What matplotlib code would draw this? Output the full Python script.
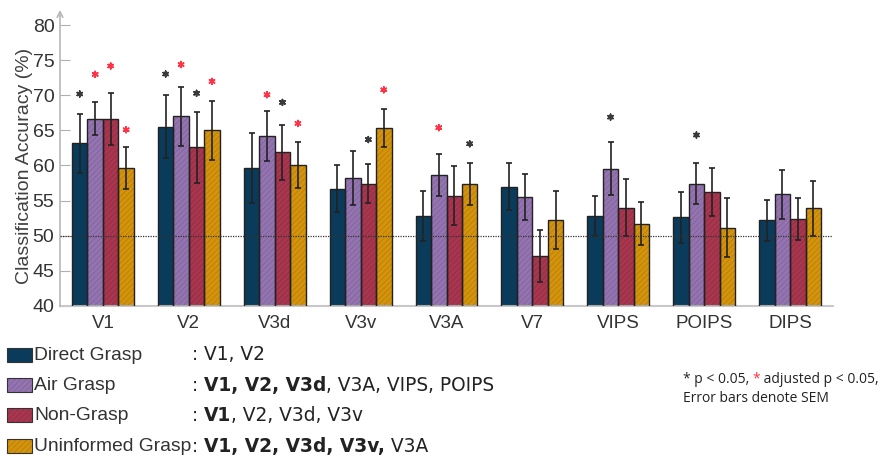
import matplotlib.pyplot as plt
from matplotlib.patches import Rectangle

regions = ["V1", "V2", "V3d", "V3v", "V3A", "V7", "VIPS", "POIPS", "DIPS"]
conditions = ["Direct Grasp", "Air Grasp", "Non-Grasp", "Uninformed Grasp"]

direct = [63.2, 65.5, 59.7, 56.7, 52.8, 57.0, 52.8, 52.6, 52.2]
direct_sem = [4.2, 4.5, 5.0, 3.3, 3.6, 3.35, 2.85, 3.6, 2.9]
air = [66.7, 67.0, 64.2, 58.2, 58.6, 55.55, 59.55, 57.4, 55.9]
air_sem = [2.3, 4.2, 3.6, 3.8, 3.0, 3.3, 3.75, 2.9, 3.5]
nongrasp = [66.6, 62.6, 61.9, 57.4, 55.7, 47.1, 54.0, 56.2, 52.4]
nongrasp_sem = [3.7, 5.1, 3.9, 2.8, 4.2, 3.65, 4.1, 3.4, 3.0]
uninformed = [59.6, 65.0, 60.1, 65.35, 57.3, 52.2, 51.7, 51.1, 53.9]
uninformed_sem = [3.0, 4.2, 3.3, 2.65, 3.0, 4.15, 3.05, 4.2, 3.9]

# significance markers: region index, condition index, height, adjusted (red) or not
star_region = [0, 0, 0, 0, 1, 1, 1, 1, 2, 2, 2, 3, 3, 4, 4, 6, 7]
star_cond = [0, 1, 2, 3, 0, 1, 2, 3, 1, 2, 3, 2, 3, 1, 3, 1, 1]
star_y = [70.2, 73.0, 74.2, 65.1, 73.05, 74.4, 70.3, 72.0, 70.1, 69.0, 66.0,
          63.7, 70.8, 65.4, 63.1, 66.9, 64.35]
star_adj = [0, 1, 1, 1, 0, 1, 0, 1, 1, 0, 1, 0, 1, 1, 0, 0, 0]

# legend summary text (text, bold?)
summary = [
    [(": V1, V2", False)],
    [(": ", False), ("V1, V2, V3d", True), (", V3A, VIPS, POIPS", False)],
    [(": ", False), ("V1", True), (", V2, V3d, V3v", False)],
    [(": ", False), ("V1, V2, V3d, V3v,", True), (" V3A", False)],
]

means = [direct, air, nongrasp, uninformed]
sems = [direct_sem, air_sem, nongrasp_sem, uninformed_sem]
colors = ["#0a3b5a", "#9474b0", "#a8364f", "#d4930c"]
hatch_colors = ["#0a3b5a", "#76598f", "#86283e", "#a87400"]
hatches = [None, "//////", "//////", "//////"]

plt.rcParams["font.family"] = ["Liberation Sans", "DejaVu Sans"]
plt.rcParams["hatch.linewidth"] = 0.35

W, H = 886, 461
fig = plt.figure(figsize=(W / 100, H / 100), dpi=100)
ax = fig.add_axes([60 / W, 1 - 305.7 / H, (833 - 60) / W, (305.7 - 25.3) / H])

width = 0.18
xs = list(range(1, len(regions) + 1))
for j in range(4):
    pos = [x + (j - 1.5) * width for x in xs]
    heights = [m - 40 for m in means[j]]
    ax.bar(pos, heights, width, bottom=40, color=colors[j], edgecolor=hatch_colors[j],
           hatch=hatches[j], linewidth=0, zorder=2)
    ax.bar(pos, heights, width, bottom=40, facecolor="none", edgecolor="#222222",
           linewidth=1.0, zorder=3)
    ax.errorbar(pos, means[j], yerr=sems[j], fmt="none", ecolor="#222222",
                elinewidth=1.2, capsize=2.5, capthick=1.2, zorder=4)

sx = [xs[r] + (c - 1.5) * width for r, c in zip(star_region, star_cond)]
sc = ["#ff3347" if a else "#3a3a3a" for a in star_adj]
ax.scatter(sx, star_y, marker=(6, 2, 0), s=17, c=sc, linewidths=1.2, zorder=5)

ax.axhline(50, color="#333333", linestyle=(0, (1, 1)), linewidth=0.9, zorder=4)

ax.set_xlim(0.5, 9.5)
ax.set_ylim(40, 80)
ax.set_yticks(range(40, 81, 5))
ax.set_xticks(xs)
ax.set_xticklabels(regions)
ax.tick_params(axis="y", direction="in", length=7, color="#b0b0b0", labelsize=14,
               labelcolor="#333333", pad=4)
ax.tick_params(axis="x", length=0, labelsize=13.5, labelcolor="#333333", pad=7)
for s in ["top", "right", "left"]:
    ax.spines[s].set_visible(False)
ax.spines["bottom"].set_color("#c8c8c8")
ax.spines["bottom"].set_linewidth(1.5)
ax.annotate("", xy=(0, 1.055), xytext=(0, -0.003), xycoords="axes fraction",
            arrowprops=dict(arrowstyle="->", color="#b8b8b8", lw=1.2, shrinkA=0, shrinkB=0))
ax.set_ylabel("Classification Accuracy (%)", fontsize=14, color="#404040", labelpad=0)

# legend block
row_y = [355, 385, 415, 446]
for j in range(4):
    fig.patches.append(Rectangle((7 / W, 1 - (row_y[j] + 7) / H), 25 / W, 14 / H,
                                 transform=fig.transFigure, facecolor=colors[j],
                                 edgecolor=hatch_colors[j], hatch=hatches[j], linewidth=0))
    fig.patches.append(Rectangle((7 / W, 1 - (row_y[j] + 7) / H), 25 / W, 14 / H,
                                 transform=fig.transFigure, facecolor="none",
                                 edgecolor="#333333", linewidth=0.8))
    fig.text(34 / W, 1 - row_y[j] / H, conditions[j], fontsize=13.9, color="#333333",
             va="center", ha="left")
    parts = summary[j]
    t = fig.text(192 / W, 1 - row_y[j] / H, parts[0][0], fontsize=13.4, family="DejaVu Sans",
                 fontweight="bold" if parts[0][1] else "normal", va="center", ha="left",
                 color="#222222")
    for txt, bold in parts[1:]:
        t = ax.annotate(txt, xy=(1, 0), xycoords=t, va="bottom", ha="left", fontsize=13.4,
                        family="DejaVu Sans", fontweight="bold" if bold else "normal",
                        color="#222222", annotation_clip=False)

# notes
t = fig.text(683 / W, 1 - 379 / H, "* p < 0.05, ", fontsize=10, family="Open Sans",
             va="center", ha="left", color="#222222")
t = ax.annotate("*", xy=(1, 0), xycoords=t, va="bottom", ha="left", fontsize=10,
                family="Open Sans", color="#ff2a3c", annotation_clip=False)
t = ax.annotate(" adjusted p < 0.05,", xy=(1, 0), xycoords=t, va="bottom", ha="left",
                fontsize=10, family="Open Sans", color="#222222", annotation_clip=False)
fig.text(683 / W, 1 - 398 / H, "Error bars denote SEM", fontsize=10, family="Open Sans",
         va="center", ha="left", color="#222222")

fig.savefig("out.png", dpi=100)
